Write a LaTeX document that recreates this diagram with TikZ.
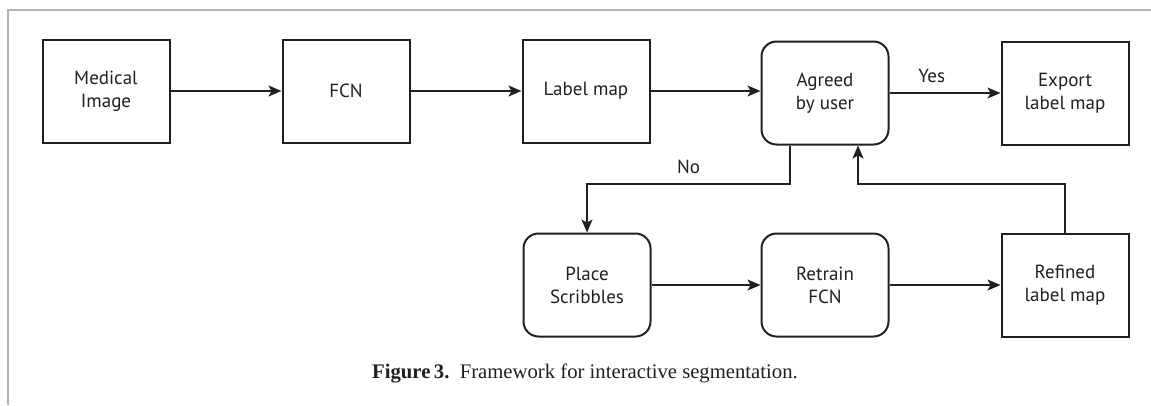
\documentclass[tikz,border=0pt]{standalone}
\usepackage{fontspec}
\setmainfont{Liberation Serif}
\newfontfamily\boxfont{PT Sans}
\usetikzlibrary{arrows.meta}
\definecolor{ink}{HTML}{231F20}
\definecolor{framegrey}{HTML}{B4B4B4}
\tikzset{
  blk/.style={draw=ink, line width=2pt, minimum width=127pt, minimum height=103pt,
    inner sep=0pt, align=center, text=ink,
    font=\boxfont\fontsize{19}{23}\selectfont},
  sqbox/.style={blk},
  rdbox/.style={blk, rounded corners=15pt},
  flow/.style={draw=ink, line width=1.6pt, -{Stealth[length=13pt,width=11pt,inset=3pt]}},
  lbl/.style={text=ink, font=\boxfont\fontsize{19}{23}\selectfont, inner sep=0pt},
}
\begin{document}
\begin{tikzpicture}[x=1pt, y=-1pt]
\useasboundingbox (0,0) rectangle (1151,405);
% frame
\draw[framegrey, line width=1.6pt] (8,405) -- (8,10) -- (1151,10);
% top row
\node[sqbox] (med) at (106,91) {Medical\\Image};
\node[sqbox] (fcn) at (346,91) {FCN};
\node[sqbox] (lab) at (586,91) {Label map};
\node[rdbox] (agr) at (825,93) {Agreed\\by user};
\node[sqbox] (exp) at (1065,93) {Export\\label map};
% bottom row
\node[rdbox] (pla) at (587,285) {Place\\Scribbles};
\node[rdbox] (ret) at (825,285) {Retrain\\FCN};
\node[sqbox] (ref) at (1065,285) {Refined\\label map};
% connectors
\draw[flow] (med.east) -- (fcn.west);
\draw[flow] (fcn.east) -- (lab.west);
\draw[flow] (lab.east) -- (agr.west |- lab.east);
\draw[flow] (agr.east) -- node[lbl, above=9pt, pos=0.38] (yes) {Yes} (exp.west);
\coordinate (nodown) at ([xshift=-35pt]agr.south);
\coordinate (nocorner) at (nodown |- 0,184);
\draw[flow] (nodown) -- (nocorner) -- node[lbl, above=9pt, pos=0.5] (no) {No} (nocorner -| pla.north) -- (pla.north);
\draw[flow] (pla.east) -- (ret.west);
\draw[flow] (ret.east) -- (ref.west);
\coordinate (fbup) at ([xshift=33pt]agr.south);
\draw[flow] (ref.north) -- (ref.north |- 0,184) -- (fbup |- 0,184) -- (fbup);
% caption
\node[anchor=base west, inner sep=0pt, text=ink, font=\fontsize{20.7}{24}\selectfont] (cap) at (372,378)
  {\textbf{Figure\,3.}\enspace Framework for interactive segmentation.};
\end{tikzpicture}
\end{document}
